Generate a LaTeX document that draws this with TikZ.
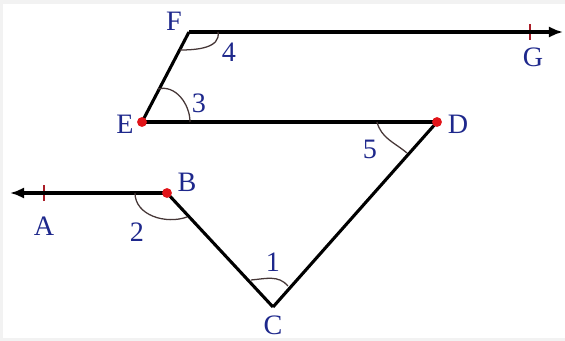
\documentclass[tikz,border=0pt]{standalone}
\usepackage{fontspec}
\setmainfont{Liberation Serif}
\usetikzlibrary{arrows.meta}
\definecolor{lbl}{RGB}{30,40,140}
\definecolor{dotred}{RGB}{225,20,25}
\definecolor{tickred}{RGB}{170,30,40}
\definecolor{arcc}{RGB}{70,55,55}
\tikzset{
  seg/.style={line width=2.2pt, black},
  ray/.style={seg, -{Latex[length=10pt,width=8pt]}},
  arcline/.style={line width=0.9pt, arcc},
  tickline/.style={line width=1pt, tickred},
  lab/.style={text=lbl, font=\fontsize{20}{22}\selectfont, inner sep=0pt},
  pt/.style={circle, fill=dotred, inner sep=0pt, minimum size=7pt}
}
\begin{document}
\begin{tikzpicture}[x=0.025cm,y=-0.025cm]
\useasboundingbox (0,0) rectangle (565,341);
\fill[gray!10] (0,0) rectangle (565,341);
\fill[white] (3,4) rectangle (565,338);
% points
\coordinate (F) at (189,32);
\coordinate (Gend) at (563,32);
\coordinate (E) at (142,122);
\coordinate (D) at (437,122);
\coordinate (B) at (167,193);
\coordinate (Aend) at (10,193);
\coordinate (C) at (273,307);
\coordinate (Gt) at (530,32);
\coordinate (At) at (44,193);
% ticks
\draw[tickline] ([yshift=-8*0.025cm]Gt) -- ([yshift=8*0.025cm]Gt);
\draw[tickline] ([yshift=-8*0.025cm]At) -- ([yshift=8*0.025cm]At);
% lines
\draw[ray] (F) -- (Gend);
\draw[seg] (E) -- (F);
\draw[seg] (E) -- (D);
\draw[seg] (D) -- (C);
\draw[seg] (C) -- (B);
\draw[ray] (B) -- (Aend);
% angle arcs
\coordinate (a4s) at (180,50);
\coordinate (a4e) at (218,32);
\draw[arcline] (a4s) to[out=0,in=-80] (a4e);
\coordinate (a3s) at (158,89);
\coordinate (a3e) at (190,122);
\draw[arcline] (a3s) to[out=15,in=90] (a3e);
\coordinate (a5s) at (377,122);
\coordinate (a5e) at (407,153);
\draw[arcline] (a5s) to[out=-75,in=140] (a5e);
\coordinate (a2s) at (135,193);
\coordinate (a2e) at (187,217);
\draw[arcline] (a2s) to[out=-90,in=200] (a2e);
\coordinate (a1s) at (251,280);
\coordinate (a1e) at (288,286);
\draw[arcline] (a1s) to[out=5,in=130] (a1e);
% dots
\node[pt] (pE) at (E) {};
\node[pt] (pD) at (D) {};
\node[pt] (pB) at (B) {};
% labels
\node[lab] (lF) at (174,21) {F};
\node[lab] (lG) at (533,57) {G};
\node[lab] (lE) at (125,124) {E};
\node[lab] (lD) at (458,124) {D};
\node[lab] (lB) at (187,182) {B};
\node[lab] (lA) at (44,226) {A};
\node[lab] (lC) at (273,325) {C};
\node[lab] (l4) at (229,52) {4};
\node[lab] (l3) at (199,103) {3};
\node[lab] (l5) at (370,149) {5};
\node[lab] (l2) at (137,232) {2};
\node[lab] (l1) at (273,262) {1};
\end{tikzpicture}
\end{document}
